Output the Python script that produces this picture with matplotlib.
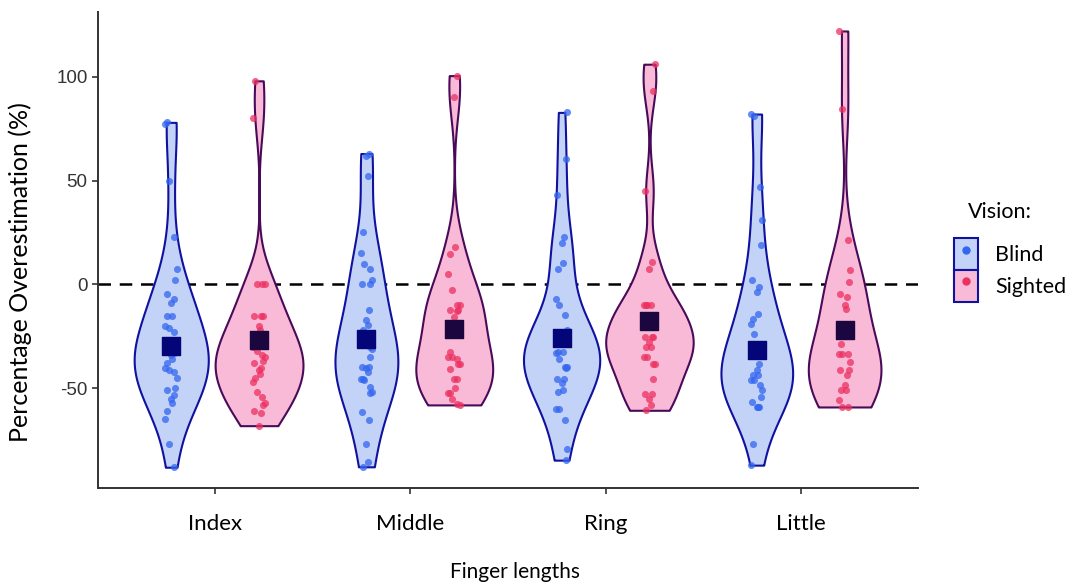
import numpy as np
import matplotlib
matplotlib.use("Agg")
import matplotlib.pyplot as plt
from matplotlib.patches import Patch
from matplotlib.lines import Line2D

#############################################################
# Data
#############################################################
fingers = ["Index", "Middle", "Ring", "Little"]
groups = ["Blind", "Sighted"]

index_blind = [78, 77, 50, 22.8, 7.5, 2.2, -4.5, -7, -9, -15, -15, -20, -21, -23,
               -30, -31, -32, -33, -34, -36, -38, -40, -41, -42,
               -45, -50, -51, -53, -55, -57, -61, -65, -77, -88]
index_sighted = [98, 80, 0, 0, 0, -15, -15, -15, -20, -22, -27, -30, -32, -34,
                 -35, -37, -38, -40, -41, -43, -45, -47, -52, -54, -57, -58,
                 -61, -62, -68]
middle_blind = [63, 62, 52.4, 25.2, 15.1, 9.9, 7.5, 1.9, 0.3, 0, -12.5, -17.3,
                -19.7, -22.1, -26, -28, -30.1, -31, -35, -39.7, -39.7, -40,
                -42.2, -45.4, -45.4, -46, -49.4, -51.8, -52.5, -61.4, -65.4,
                -76.6, -85.4, -87.8]
middle_sighted = [100.5, 90, 17.9, 14.7, 5.1, -2.9, -10.1, -10.1, -12.5, -12.5,
                  -13, -15.7, -18.9, -32.5, -35, -35, -36, -38.1, -38.1, -40.5,
                  -45.3, -45.3, -50.1, -52.5, -52.5, -55, -57.4, -58]
ring_blind = [82.8, 60.4, 42.8, 22.7, 19.9, 10.3, 7.5, -6.9, -10.1, -14.9, -22.1,
              -24, -26, -28.5, -28, -32.5, -32.5, -33, -35.7, -39.7, -39.7, -40,
              -45.3, -45.3, -47.7, -51, -52, -59.8, -59.8, -65.4, -79, -84.6]
ring_sighted = [106, 93.3, 45.2, 10.7, 7.5, -10.1, -10.1, -10.1, -10.1, -15.7,
                -17.3, -25.3, -25.3, -25.3, -27.7, -30.1, -30.1, -35, -35, -38.1,
                -38.1, -45.3, -52.6, -52.6, -55, -58.2, -60.6]
little_blind = [82, 81, 46.8, 31.1, 18.8, 1.9, -1.3, -3.7, -14.1, -16.5, -18.9,
                -23.7, -30, -32, -34.1, -34, -38.1, -41.3, -43.8, -43.8, -46.2,
                -46.2, -48.6, -51, -54.2, -56.6, -59, -59, -59, -76.6, -87]
little_sighted = [122, 84.5, 21.2, 6.7, 1.1, -4.5, -6.1, -10.1, -12, -28.5,
                  -33.3, -33.3, -33.3, -37.3, -41.3, -41.3, -43.8, -48.6, -51,
                  -51, -55.8, -59, -59]

values = {
    ("Index", "Blind"): index_blind, ("Index", "Sighted"): index_sighted,
    ("Middle", "Blind"): middle_blind, ("Middle", "Sighted"): middle_sighted,
    ("Ring", "Blind"): ring_blind, ("Ring", "Sighted"): ring_sighted,
    ("Little", "Blind"): little_blind, ("Little", "Sighted"): little_sighted,
}

# group means shown as squares
means_blind = [-29.8, -26.4, -25.6, -31.4]
means_sighted = [-26.6, -21.3, -17.8, -22.1]

#############################################################
# Style
#############################################################
fill_col = {"Blind": "#c3d3f7", "Sighted": "#f8bad6"}
edge_col = {"Blind": "#1111a0", "Sighted": "#4a0a5a"}
pt_col = {"Blind": "#3366f0", "Sighted": "#ec3060"}
mean_col = {"Blind": "#05057a", "Sighted": "#1c0640"}
jit = [-0.02, 0.012, 0.028, -0.03, 0.0, 0.02, -0.012, 0.006, -0.024, 0.016]

dodge = 0.225
full_w = 0.45
bw_adjust = 1.15


def kde(v, grid):
    v = np.asarray(v, float)
    n = len(v)
    iqr = np.subtract(*np.percentile(v, [75, 25]))
    bw = 0.9 * min(v.std(ddof=1), iqr / 1.34) * n ** -0.2 * bw_adjust
    d = np.exp(-0.5 * ((grid[:, None] - v[None, :]) / bw) ** 2).sum(1)
    return d / (n * bw * np.sqrt(2 * np.pi))


dens = {}
for k, v in values.items():
    g = np.linspace(min(v), max(v), 512)
    dens[k] = (g, kde(v, g))
dmax = max(d.max() for g, d in dens.values())

fig = plt.figure(figsize=(10.76, 5.84), dpi=100)
ax = fig.add_axes([0.0911, 0.1644, 0.853 - 0.0911, 0.979 - 0.1644])

ax.axhline(0, color="black", lw=1.8, ls=(0, (5, 3.5)), zorder=1)

for i, f in enumerate(fingers):
    for j, grp in enumerate(groups):
        xc = i + 1 + (dodge if j else -dodge)
        g, d = dens[(f, grp)]
        hw = d / dmax * full_w / 2
        ax.fill_betweenx(g, xc - hw, xc + hw, facecolor=fill_col[grp],
                         edgecolor=edge_col[grp], lw=1.5, zorder=2)
        v = values[(f, grp)]
        xs = [xc + jit[(n * 3 + i) % len(jit)] for n in range(len(v))]
        ax.scatter(xs, v, s=26, color=pt_col[grp], alpha=0.75, lw=0, zorder=3)
        m = means_blind[i] if grp == "Blind" else means_sighted[i]
        ax.scatter([xc], [m], marker="s", s=170, color=mean_col[grp], zorder=4)

ax.set_xlim(0.4, 4.6)
ax.set_ylim(-98, 131)
ax.set_xticks(range(1, 5))
ax.set_xticklabels(fingers, fontfamily="Lato", fontsize=16)
ax.set_yticks([-50, 0, 50, 100])
ax.set_yticklabels(["-50", "0", "50", "100"], fontfamily="Liberation Sans",
                   fontsize=13.5, color="#333333")
ax.tick_params(length=4.5, width=1.2, color="#333333")
ax.tick_params(axis="x", pad=14)
ax.tick_params(axis="y", pad=3)
for s in ["top", "right"]:
    ax.spines[s].set_visible(False)
for s in ["left", "bottom"]:
    ax.spines[s].set_color("#333333")
    ax.spines[s].set_linewidth(1.4)

fig.text(515 / 1076, 0.004, "Finger lengths", ha="center", va="bottom",
         fontfamily="Lato", fontsize=15)
fig.text(20 / 1076, 1 - 272 / 584, "Percentage Overestimation (%)",
         rotation=90, ha="center", va="center", fontfamily="Lato", fontsize=18)

# legend (title drawn separately for the larger gap)
handles = []
for grp in groups:
    box = Patch(facecolor=fill_col[grp], edgecolor="#1111a0", lw=1.5)
    dot = Line2D([], [], marker="o", ls="", color=pt_col[grp], ms=5)
    handles.append((box, dot))
fig.legend(handles, groups, loc="center left",
           bbox_to_anchor=(0.877, 1 - 270 / 584), frameon=False, borderpad=0,
           prop={"family": "Lato", "size": 15.5}, handlelength=1.1,
           handleheight=1.9, handletextpad=0.8, labelspacing=0.0)
fig.text(1000 / 1076, 1 - 212 / 584, "Vision:", ha="center", va="center",
         fontfamily="Lato", fontsize=15.5)

plt.savefig("out.png", dpi=100)
